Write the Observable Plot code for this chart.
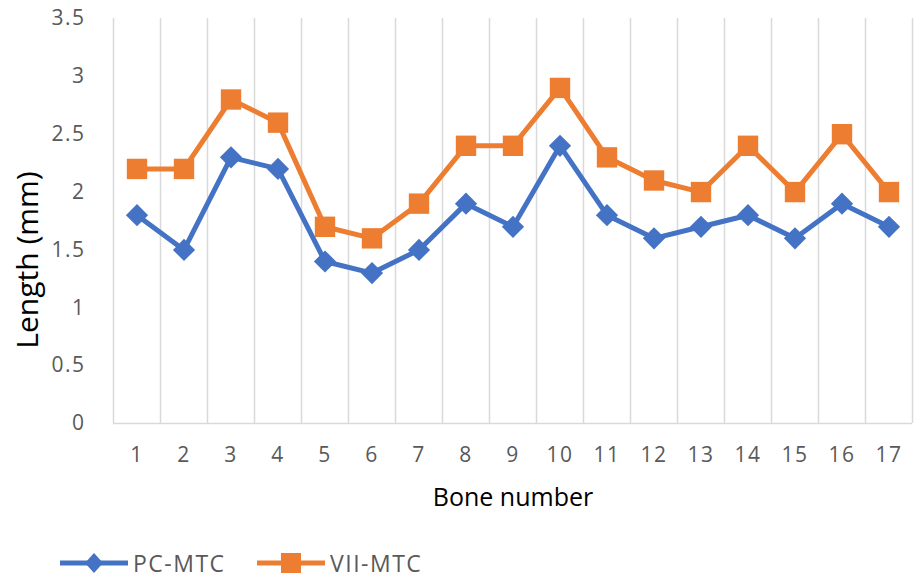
<!DOCTYPE html>
<html>
<head>
<meta charset="utf-8">
<script src="https://cdn.jsdelivr.net/npm/d3@7"></script>
<script src="https://cdn.jsdelivr.net/npm/@observablehq/plot@0.6"></script>
<style>
  body { margin: 0; background: #fff; font-family: "Open Sans", sans-serif; }
  #wrap { position: relative; width: 924px; height: 579px; }
  #legend { position: absolute; left: 0; top: 546px; width: 924px; height: 34px; font-size: 23px; letter-spacing: 1.5px; color: #595959; }
  .item { display: flex; align-items: center; white-space: nowrap; height: 34px; top: 0; }
</style>
</head>
<body>
<div id="wrap">
  <div id="chart"></div>
  <div id="legend"></div>
</div>
<script>
const bones = [1,2,3,4,5,6,7,8,9,10,11,12,13,14,15,16,17];
const pcMtc = [1.8,1.5,2.3,2.2,1.4,1.3,1.5,1.9,1.7,2.4,1.8,1.6,1.7,1.8,1.6,1.9,1.7];
const viiMtc = [2.2,2.2,2.8,2.6,1.7,1.6,1.9,2.4,2.4,2.9,2.3,2.1,2.0,2.4,2.0,2.5,2.0];
const yTicks = [0,0.5,1,1.5,2,2.5,3,3.5];
const seriesNames = ["PC-MTC", "VII-MTC"];
const colors = ["#4472C4", "#ED7D31"];
const yTitle = "Length (mm)";
const xTitle = "Bone number";

const pcData = bones.map((b, i) => ({bone: b, v: pcMtc[i]}));
const viiData = bones.map((b, i) => ({bone: b, v: viiMtc[i]}));
const gridX = bones.map(b => b - 0.5).concat([bones[bones.length - 1] + 0.5]);

const plot = Plot.plot({
  width: 924,
  height: 525,
  marginTop: 18,
  marginBottom: 102,
  marginLeft: 113,
  marginRight: 12,
  style: {fontFamily: "'Open Sans', sans-serif", fontSize: "21px", background: "#fff"},
  x: {type: "linear", domain: [0.5, 17.5]},
  y: {domain: [0, 3.5]},
  marks: [
    Plot.ruleX(gridX, {stroke: "#d9d9d9", strokeWidth: 1.5}),
    Plot.ruleY([0], {stroke: "#d9d9d9", strokeWidth: 1.5}),
    Plot.axisY({ticks: yTicks, tickSize: 0, tickPadding: 28, tickFormat: d => String(d), color: "#595959", label: null}),
    Plot.axisX({ticks: bones, tickSize: 0, tickPadding: 24, tickFormat: d => String(d), color: "#595959", label: null}),
    Plot.text([yTitle], {frameAnchor: "left", textAnchor: "middle", lineAnchor: "middle", rotate: -90, dx: -85, dy: 39, fontSize: 30, fill: "#000", text: d => d}),
    Plot.text([xTitle], {frameAnchor: "bottom", textAnchor: "middle", lineAnchor: "middle", dy: 74, fontSize: 25, fill: "#000", text: d => d}),
    Plot.line(pcData, {x: "bone", y: "v", stroke: colors[0], strokeWidth: 5}),
    Plot.line(viiData, {x: "bone", y: "v", stroke: colors[1], strokeWidth: 5}),
    Plot.dot(pcData, {x: "bone", y: "v", symbol: "diamond2", r: 10, fill: colors[0], stroke: "none"}),
    Plot.dot(viiData, {x: "bone", y: "v", symbol: "square", r: 11.5, fill: colors[1], stroke: "none"})
  ]
});
document.getElementById("chart").appendChild(plot);

// tick label spacing
plot.querySelectorAll('[aria-label="y-axis tick label"] text, [aria-label="x-axis tick label"] text').forEach(t => {
  t.style.letterSpacing = "1.5px";
});

const legend = document.getElementById("legend");
const legendX = [60, 257];
seriesNames.forEach((name, i) => {
  const item = document.createElement("div");
  item.className = "item";
  item.style.position = "absolute";
  item.style.left = legendX[i] + "px";
  const sym = i === 0
    ? `<polygon points="34,7 43,17 34,27 25,17" fill="${colors[0]}"/>`
    : `<rect x="24" y="7" width="20" height="20" fill="${colors[1]}"/>`;
  item.innerHTML = `<svg width="68" height="34"><line x1="0" y1="17" x2="68" y2="17" stroke="${colors[i]}" stroke-width="5"/>${sym}</svg><span style="margin-left:5px">${name}</span>`;
  legend.appendChild(item);
});
</script>
</body>
</html>
